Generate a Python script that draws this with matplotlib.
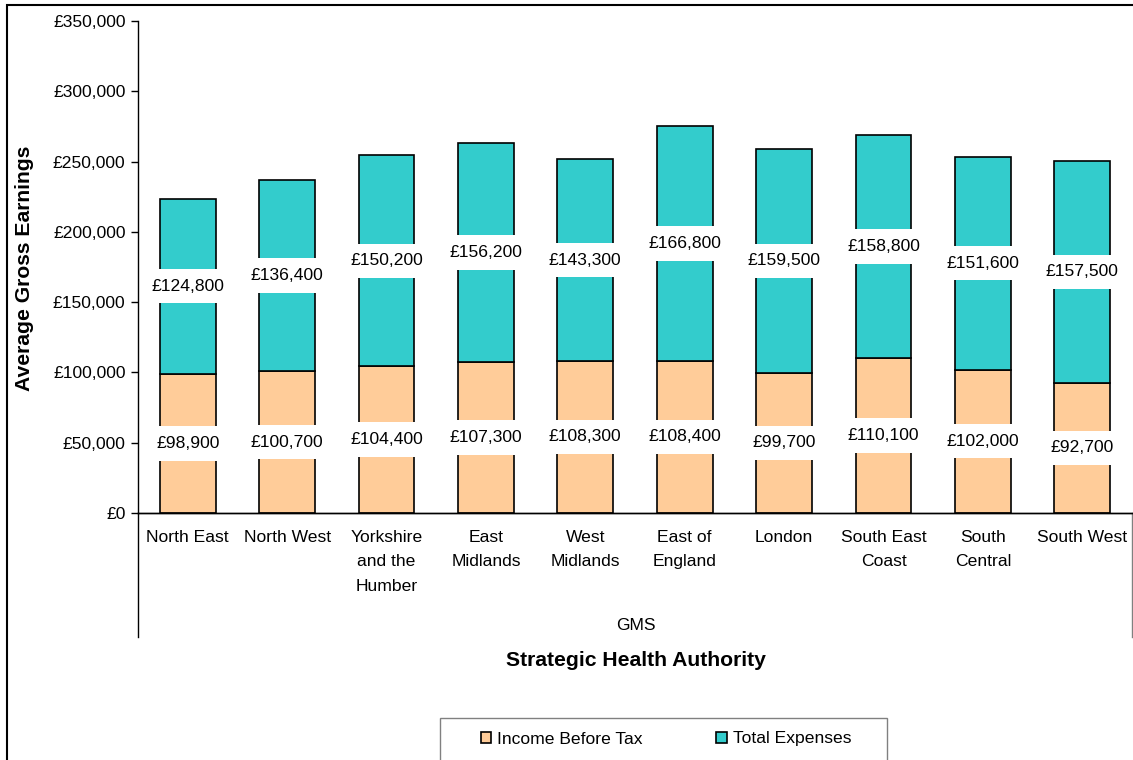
import matplotlib
matplotlib.use('Agg')
import matplotlib.pyplot as plt
from matplotlib.patches import Rectangle
from matplotlib.ticker import FuncFormatter
import numpy as np

plt.rcParams['font.family'] = ['Liberation Sans', 'DejaVu Sans']

regions = ['North East', 'North West', 'Yorkshire\nand the\nHumber', 'East\nMidlands',
           'West\nMidlands', 'East of\nEngland', 'London', 'South East\nCoast',
           'South\nCentral', 'South West']
income = [98900, 100700, 104400, 107300, 108300, 108400, 99700, 110100, 102000, 92700]
expenses = [124800, 136400, 150200, 156200, 143300, 166800, 159500, 158800, 151600, 157500]
group_label = 'GMS'
series_names = ['Income Before Tax', 'Total Expenses']
colors = ['#FFCC99', '#33CCCC']

FS = 12.6
W, H = 1133, 760
fig = plt.figure(figsize=(W / 100, H / 100), dpi=100)
ax = fig.add_axes([138 / W, (H - 513) / H, (1132 - 138) / W, (513 - 21) / H])

x = np.arange(len(regions))
income = np.array(income)
expenses = np.array(expenses)
b1 = ax.bar(x, income, width=0.56, color=colors[0], edgecolor='black', linewidth=1.2,
            label=series_names[0], zorder=2)
b2 = ax.bar(x, expenses, width=0.56, bottom=income, color=colors[1], edgecolor='black',
            linewidth=1.2, label=series_names[1], zorder=2)

box = dict(boxstyle='square,pad=0.55', facecolor='white', edgecolor='none')
for i in range(len(x)):
    ax.text(x[i], income[i] / 2, f'£{income[i]:,}', ha='center', va='center',
            fontsize=FS, bbox=box, zorder=3)
    ax.text(x[i], income[i] + expenses[i] / 2, f'£{expenses[i]:,}', ha='center',
            va='center', fontsize=FS, bbox=box, zorder=3)

ax.set_xlim(-0.5, len(regions) - 0.5)
ax.set_ylim(0, 350000)
ax.yaxis.set_major_formatter(FuncFormatter(lambda v, p: f'£{int(v):,}'))
ax.set_yticks(np.arange(0, 350001, 50000))
ax.tick_params(axis='y', length=5, width=1, labelsize=FS, pad=4)
ax.set_xticks(x)
ax.set_xticklabels(regions, fontsize=FS, linespacing=1.8)
ax.tick_params(axis='x', length=0, pad=12)
for s in ['top', 'right']:
    ax.spines[s].set_visible(False)
ax.spines['left'].set_linewidth(1)
ax.spines['bottom'].set_linewidth(1)

# multi-level category frame
depth = (637 - 513) / (513 - 21)
ax.plot([0, 0], [0, -depth], transform=ax.transAxes, color='black', lw=1, clip_on=False)
ax.plot([1, 1], [0, -depth], transform=ax.transAxes, color='#808080', lw=1, clip_on=False)
ax.plot([0, 1], [0, 0], transform=ax.transAxes, color='black', lw=1, clip_on=False)

fig.text(636 / W, 1 - 625 / H, group_label, ha='center', va='center', fontsize=FS)
fig.text(636 / W, 1 - 661 / H, 'Strategic Health Authority', ha='center', va='center',
         fontsize=15.2, fontweight='bold')
fig.text(25 / W, 1 - 268 / H, 'Average Gross Earnings', ha='center', va='center',
         rotation=90, fontsize=15.2, fontweight='bold')

# legend with box
fig.patches.append(Rectangle((440 / W, -0.05), (887 - 440) / W, 0.05 + (H - 718) / H,
                             transform=fig.transFigure, facecolor='white',
                             edgecolor='#808080', lw=1))
fig.legend(handles=[b1, b2], labels=series_names, loc='center', ncol=2,
           bbox_to_anchor=(666 / W, 1 - 739 / H), frameon=False, fontsize=FS,
           handlelength=0.6, handleheight=0.6, handletextpad=0.35, columnspacing=4.2)

# outer chart border
fig.patches.append(Rectangle((7 / W, -0.05), 1.1, 0.05 + (H - 5) / H,
                             transform=fig.transFigure, facecolor='none',
                             edgecolor='black', lw=1.5))

fig.savefig('out.png', dpi=100)
